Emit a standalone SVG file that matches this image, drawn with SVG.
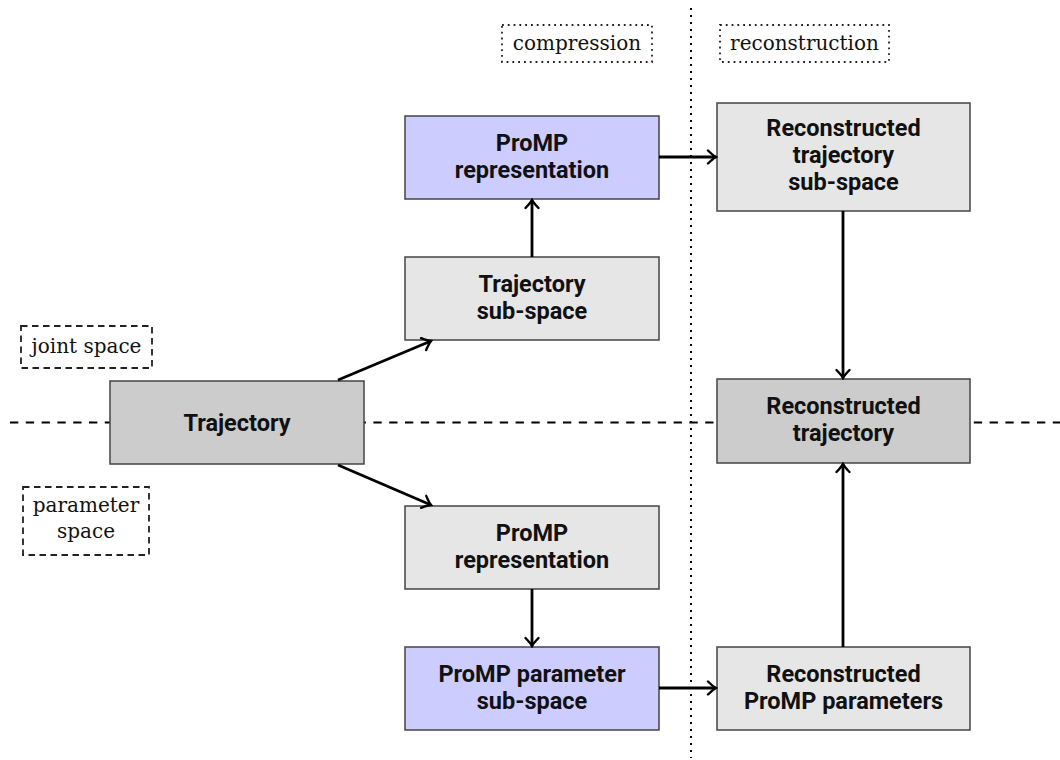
<svg xmlns="http://www.w3.org/2000/svg" width="1060" height="760" viewBox="0 0 1060 760">
<style>
.node rect{stroke:#444;stroke-width:1.5}
.light{fill:#e6e6e6}
.dark{fill:#cccccc}
.blue{fill:#ccccff}
.nt{font-family:Roboto,"Liberation Sans",sans-serif;font-weight:bold;font-size:23.5px;fill:#111;text-anchor:middle}
.lt{font-family:"DejaVu Serif","Liberation Serif",serif;font-size:20px;fill:#111;text-anchor:middle}
.dotbox{fill:none;stroke:#222;stroke-width:1.8;stroke-dasharray:1.8 4}
.dashbox{fill:none;stroke:#222;stroke-width:1.8;stroke-dasharray:6.5 4.5}
.conn{stroke:#000;stroke-width:2.8;fill:none;marker-end:url(#arr)}
</style>
<defs>
<marker id="arr" viewBox="-10 -8 12 16" refX="0" refY="0" markerWidth="12" markerHeight="16" markerUnits="userSpaceOnUse" orient="auto">
<path d="M-8,-6.5 Q-2.5,-1.2 0,0 Q-2.5,1.2 -8,6.5" fill="none" stroke="#000" stroke-width="2.4" stroke-linecap="round"/>
</marker>
</defs>
<rect width="1060" height="760" fill="#fff"/>
<g id="guides">
<line x1="10" y1="422.5" x2="1060" y2="422.5" stroke="#000" stroke-width="2" stroke-dasharray="8.3 7.5"/>
<line x1="691" y1="8" x2="691" y2="758" stroke="#000" stroke-width="2" stroke-dasharray="2 5"/>
</g>
<g id="label-compression"><rect class="dotbox" x="502" y="25" width="150" height="37"/><text class="lt" x="577" y="50">compression</text></g>
<g id="label-reconstruction"><rect class="dotbox" x="720" y="25" width="169" height="37"/><text class="lt" x="804.5" y="50">reconstruction</text></g>
<g id="label-joint"><rect class="dashbox" x="21" y="326" width="131" height="42"/><text class="lt" x="86.5" y="353">joint space</text></g>
<g id="label-param"><rect class="dashbox" x="23" y="487" width="126" height="68"/><text class="lt" x="86" y="512">parameter</text><text class="lt" x="86" y="538">space</text></g>
<g id="n-trajectory" class="node"><rect class="dark" x="110" y="381" width="254" height="83"/><text class="nt" x="237" y="431">Trajectory</text></g>
<g id="n-trajsub" class="node"><rect class="light" x="405" y="257" width="254" height="83"/><text class="nt" x="532" y="291.5">Trajectory</text><text class="nt" x="532" y="318.5">sub-space</text></g>
<g id="n-promp-top" class="node"><rect class="blue" x="405" y="116" width="254" height="83"/><text class="nt" x="532" y="150.5">ProMP</text><text class="nt" x="532" y="177.5">representation</text></g>
<g id="n-promp-bot" class="node"><rect class="light" x="405" y="506" width="254" height="83"/><text class="nt" x="532" y="540.5">ProMP</text><text class="nt" x="532" y="567.5">representation</text></g>
<g id="n-param-sub" class="node"><rect class="blue" x="405" y="647" width="254" height="83"/><text class="nt" x="532" y="681.5">ProMP parameter</text><text class="nt" x="532" y="708.5">sub-space</text></g>
<g id="n-rec-trajsub" class="node"><rect class="light" x="717" y="103" width="253" height="108"/><text class="nt" x="843.5" y="136">Reconstructed</text><text class="nt" x="843.5" y="163">trajectory</text><text class="nt" x="843.5" y="190">sub-space</text></g>
<g id="n-rec-traj" class="node"><rect class="dark" x="717" y="379" width="253" height="84"/><text class="nt" x="843.5" y="414">Reconstructed</text><text class="nt" x="843.5" y="441">trajectory</text></g>
<g id="n-rec-param" class="node"><rect class="light" x="717" y="647" width="253" height="83"/><text class="nt" x="843.5" y="681.5">Reconstructed</text><text class="nt" x="843.5" y="708.5">ProMP parameters</text></g>
<g id="connectors">
<line class="conn" x1="338" y1="380" x2="431" y2="341"/>
<line class="conn" x1="338" y1="465" x2="431" y2="505"/>
<line class="conn" x1="532" y1="257" x2="532" y2="200"/>
<line class="conn" x1="659" y1="157" x2="716" y2="157"/>
<line class="conn" x1="843" y1="211" x2="843" y2="378"/>
<line class="conn" x1="532" y1="589" x2="532" y2="646"/>
<line class="conn" x1="659" y1="688" x2="716" y2="688"/>
<line class="conn" x1="843" y1="647" x2="843" y2="464"/>
</g>
</svg>
